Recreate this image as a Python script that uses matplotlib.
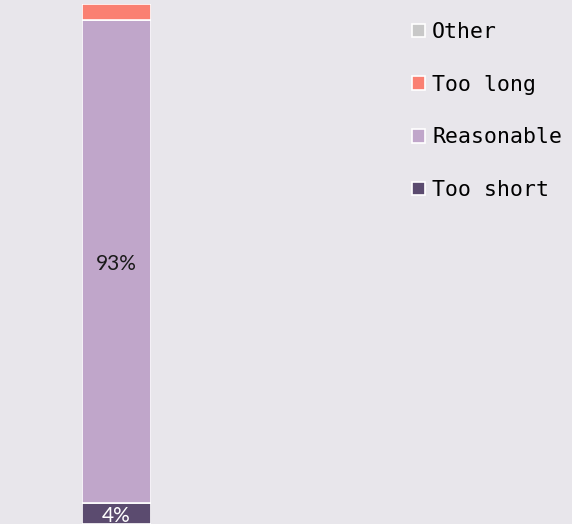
import matplotlib
matplotlib.use("Agg")
import matplotlib.pyplot as plt
from matplotlib.patches import Patch

categories = ["Too short", "Reasonable", "Too long", "Other"]
shares = [4, 93, 3, 0]
labels = ["4%", "93%", "", ""]
colors = ["#5b4b6f", "#c0a6ca", "#fa8072", "#c8c8c8"]
label_colors = ["white", "#1a1a1a", "#1a1a1a", "#1a1a1a"]

bg = "#e8e6eb"
fig = plt.figure(figsize=(5.72, 5.24), dpi=100, facecolor=bg)
ax = fig.add_axes([82 / 572, 0, 69 / 572, 520 / 524])
ax.set_facecolor(bg)

bottom = 0
for cat, val, lab, col, lc in zip(categories, shares, labels, colors, label_colors):
    if val > 0:
        ax.bar(0, val, bottom=bottom, width=1, color=col, edgecolor="white", linewidth=1.2)
    if lab:
        ax.text(0, bottom + val / 2 - 0.5, lab, ha="center", va="center",
                fontsize=15, color=lc, family="Lato")
    bottom += val

ax.set_xlim(-0.5, 0.5)
ax.set_ylim(0, 100)
ax.axis("off")

handles = [Patch(facecolor=c, edgecolor="white", linewidth=1.2) for c in colors[::-1]]
fig.legend(handles, categories[::-1], loc="upper left", bbox_to_anchor=(412 / 572, 1 - 22 / 524),
           frameon=False, prop={"family": "DejaVu Sans Mono", "size": 15.5},
           handlelength=0.6, handleheight=0.6, handletextpad=0.33, labelspacing=1.52,
           borderaxespad=0, borderpad=0)

fig.savefig("out.png", dpi=100, facecolor=bg)
